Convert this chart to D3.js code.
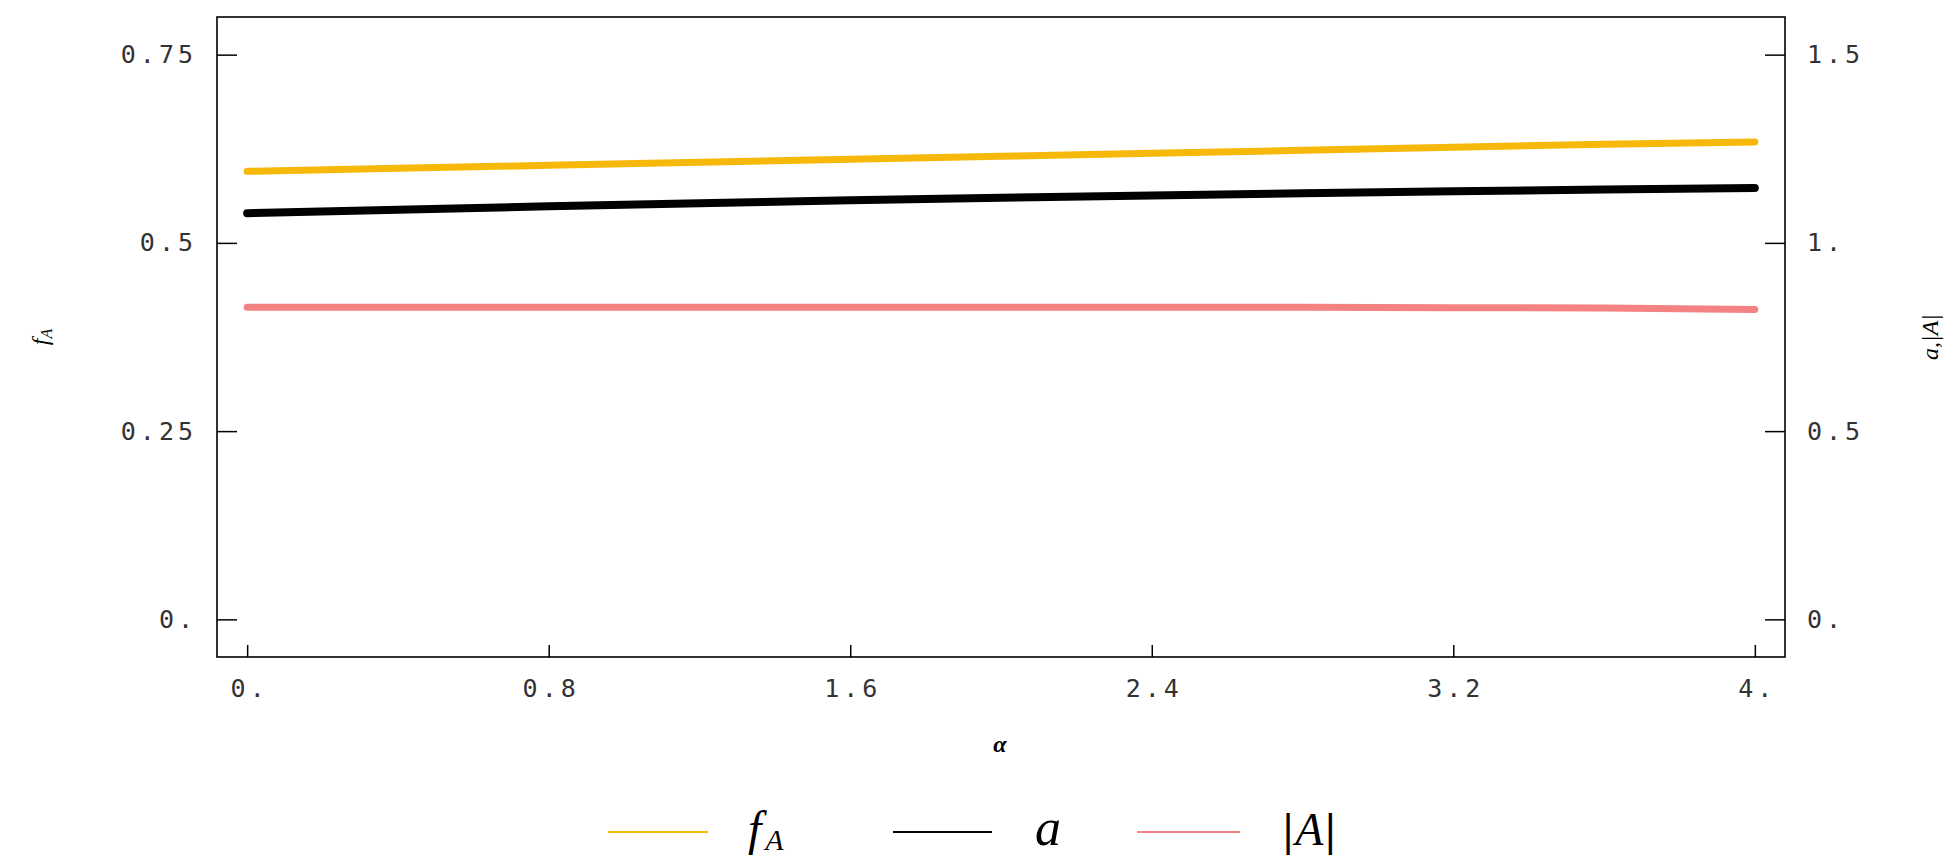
<!DOCTYPE html>
<html>
<head>
<meta charset="utf-8">
<script src="https://cdn.jsdelivr.net/npm/d3@7"></script>
<style>
  html, body { margin: 0; padding: 0; background: #fff; }
  svg { display: block; }
</style>
</head>
<body>
<svg></svg>
<script>
var width = 1954, height = 856;

// alpha values and the three curves
var alpha  = [0, 0.4, 0.8, 1.2, 1.6, 2.0, 2.4, 2.8, 3.2, 3.6, 4.0];
var fA     = [0.595, 0.599, 0.603, 0.607, 0.611, 0.615, 0.619, 0.623, 0.627, 0.631, 0.634];
var aVals  = [1.079, 1.088, 1.097, 1.105, 1.113, 1.120, 1.126, 1.132, 1.137, 1.142, 1.146];
var absA   = [0.829, 0.829, 0.829, 0.829, 0.829, 0.829, 0.829, 0.829, 0.828, 0.827, 0.823];

var xTicks = [0, 0.8, 1.6, 2.4, 3.2, 4];
var xTickLabels = ['0.', '0.8', '1.6', '2.4', '3.2', '4.'];
var yLeftTicks = [0, 0.25, 0.5, 0.75];
var yLeftLabels = ['0.', '0.25', '0.5', '0.75'];
var yRightTicks = [0, 0.5, 1, 1.5];
var yRightLabels = ['0.', '0.5', '1.', '1.5'];

var margin = { top: 17, right: 169, bottom: 199, left: 217 };
var innerWidth = width - margin.left - margin.right;
var innerHeight = height - margin.top - margin.bottom;

var svg = d3.select('svg')
    .attr('width', width)
    .attr('height', height);

var g = svg.append('g')
    .attr('transform', `translate(${margin.left},${margin.top})`);

var x = d3.scaleLinear().domain([-0.08, 4.08]).range([0, innerWidth]);
var yL = d3.scaleLinear().domain([-0.05, 0.8]).range([innerHeight, 0]);
var yR = d3.scaleLinear().domain([-0.1, 1.6]).range([innerHeight, 0]);

function styleAxis(sel) {
  sel.attr('font-family', 'DejaVu Sans Mono')
     .attr('font-size', 25);
  sel.selectAll('.tick text').attr('fill', '#333').attr('letter-spacing', 4);
  sel.selectAll('.tick line').attr('stroke', '#000').attr('stroke-width', 1.5);
  sel.select('.domain').remove();
}

// axes with inward ticks
var xAxis = g.append('g')
    .attr('transform', `translate(0,${innerHeight})`)
    .call(d3.axisBottom(x).tickValues(xTicks).tickSize(-12).tickPadding(22)
      .tickFormat((d, i) => xTickLabels[i]))
    .call(styleAxis);
xAxis.selectAll('text').attr('dx', '2px');

var leftAxis = g.append('g')
    .call(d3.axisLeft(yL).tickValues(yLeftTicks).tickSize(-20).tickPadding(20)
      .tickFormat((d, i) => yLeftLabels[i]))
    .call(styleAxis);

var rightAxis = g.append('g')
    .attr('transform', `translate(${innerWidth},0)`)
    .call(d3.axisRight(yR).tickValues(yRightTicks).tickSize(-20).tickPadding(22)
      .tickFormat((d, i) => yRightLabels[i]))
    .call(styleAxis);

g.append('rect')
    .attr('width', innerWidth)
    .attr('height', innerHeight)
    .attr('fill', 'none')
    .attr('stroke', '#000')
    .attr('stroke-width', 1.6);

// series
var series = [
  { values: fA, scale: yL, color: '#F6B90A', width: 7 },
  { values: aVals, scale: yR, color: '#000000', width: 8 },
  { values: absA, scale: yR, color: '#F58283', width: 7 }
];

series.forEach(s => {
  var line = d3.line()
    .x((d, i) => x(alpha[i]))
    .y(d => s.scale(d));
  g.append('path')
    .datum(s.values)
    .attr('d', line)
    .attr('fill', 'none')
    .attr('stroke', s.color)
    .attr('stroke-width', s.width)
    .attr('stroke-linecap', 'round');
});

// axis titles
svg.append('text')
    .attr('transform', 'translate(48,337) rotate(-90)')
    .attr('text-anchor', 'middle')
    .attr('font-family', 'Liberation Serif')
    .attr('font-style', 'italic')
    .attr('font-size', 24)
    .text('f')
  .append('tspan')
    .attr('font-size', 16)
    .attr('dy', 4)
    .text('A');

svg.append('text')
    .attr('transform', 'translate(1938,337) rotate(-90)')
    .attr('text-anchor', 'middle')
    .attr('font-family', 'Liberation Serif')
    .attr('font-style', 'italic')
    .attr('font-size', 24)
    .text('a,|A|');

svg.append('text')
    .attr('x', 1000)
    .attr('y', 752)
    .attr('text-anchor', 'middle')
    .attr('font-family', 'Liberation Serif')
    .attr('font-style', 'italic')
    .attr('font-weight', 'bold')
    .attr('font-size', 24)
    .text('α');

// legend
var legend = [
  { x0: 608, x1: 708, tx: 748, color: '#F6B90A', label: 'fA' },
  { x0: 893, x1: 992, tx: 1035, color: '#000000', label: 'a' },
  { x0: 1137, x1: 1240, tx: 1283, color: '#F58283', label: '|A|' }
];

var lg = svg.append('g');
legend.forEach(d => {
  lg.append('line')
      .attr('x1', d.x0).attr('x2', d.x1)
      .attr('y1', 832).attr('y2', 832)
      .attr('stroke', d.color)
      .attr('stroke-width', 2);
  var t = lg.append('text')
      .attr('x', d.tx)
      .attr('y', 845)
      .attr('font-family', 'Liberation Serif')
      .attr('font-size', 46);
  if (d.label === 'fA') {
    t.append('tspan').attr('font-style', 'italic').attr('font-size', 48).text('f');
    t.append('tspan').attr('font-style', 'italic').attr('font-size', 30).attr('dx', 4).attr('dy', 5).text('A');
  } else if (d.label === 'a') {
    t.append('tspan').attr('font-style', 'italic').attr('font-size', 52).text('a');
  } else {
    t.append('tspan').attr('font-weight', 'bold').text('|');
    t.append('tspan').attr('font-style', 'italic').attr('dx', 2).text('A');
    t.append('tspan').attr('font-weight', 'bold').attr('dx', 2).text('|');
  }
});
</script>
</body>
</html>
